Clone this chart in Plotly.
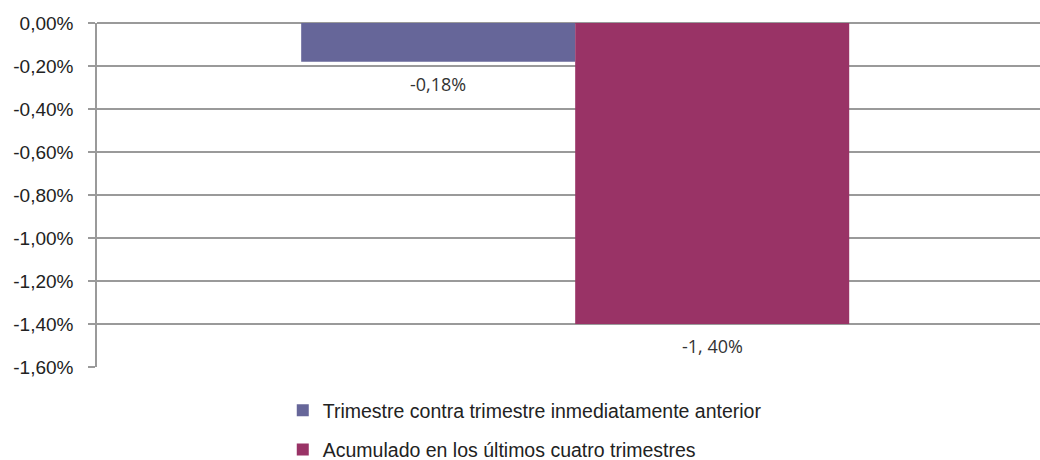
import plotly.graph_objects as go

CATEGORY = [""]
SERIES = [
    "Trimestre contra trimestre inmediatamente anterior",
    "Acumulado en los últimos cuatro trimestres",
]
VALUES = [-0.18, -1.40]
LABELS = ["-0,18%", "-1, 40%"]
COLORS = ["#666699", "#993366"]

TICK_VALS = [0, -0.2, -0.4, -0.6, -0.8, -1.0, -1.2, -1.4, -1.6]
TICK_TEXT = ["0,00%", "-0,20%", "-0,40%", "-0,60%", "-0,80%",
             "-1,00%", "-1,20%", "-1,40%", "-1,60%"]

fig = go.Figure()

for i, (name, val, col) in enumerate(zip(SERIES, VALUES, COLORS)):
    fig.add_trace(
        go.Bar(
            x=CATEGORY,
            y=[val],
            name=name,
            marker=dict(color=col, line=dict(width=0)),
            legendgroup=f"g{i}",
        )
    )

# value labels below each bar
offsets = [-0.5, 0.5]
for off, val, lab in zip(offsets, VALUES, LABELS):
    fig.add_annotation(
        x=0, y=val, xref="x", yref="y",
        text=lab, showarrow=False,
        xshift=off * 274, yshift=-8,
        yanchor="top",
        font=dict(family="Open Sans, Liberation Sans, Arial", size=18, color="#333333"),
    )

fig.update_layout(
    width=1040,
    height=460,
    margin=dict(l=97, r=0, t=23, b=93, autoexpand=False),
    plot_bgcolor="white",
    paper_bgcolor="white",
    barmode="group",
    bargap=0.427,
    bargroupgap=0,
    font=dict(family="Liberation Sans, Arial", size=18, color="#222222"),
    showlegend=True,
    legend=dict(
        orientation="v",
        x=0.197,
        xanchor="left",
        yref="container",
        y=0.15,
        yanchor="top",
        tracegroupgap=11,
        borderwidth=0,
        font=dict(size=19.5, color="#222222"),
        bgcolor="rgba(0,0,0,0)",
    ),
    xaxis=dict(
        type="category",
        range=[-0.5, 0.486],
        showticklabels=False,
        showgrid=False,
        showline=False,
        zeroline=False,
        fixedrange=True,
    ),
    yaxis=dict(
        range=[-1.6, 0],
        tickvals=TICK_VALS,
        ticktext=TICK_TEXT,
        showgrid=True,
        gridcolor="#9a9a9a",
        gridwidth=1.5,
        zeroline=True,
        zerolinecolor="#9a9a9a",
        zerolinewidth=1.5,
        showline=True,
        linecolor="#9a9a9a",
        linewidth=1.5,
        ticks="outside",
        ticklen=7,
        tickcolor="#9a9a9a",
        tickwidth=1.5,
        ticklabelstandoff=11,
        tickfont=dict(size=19, color="#222222"),
    ),
)

fig.write_html(
    "out.html",
    config={"displayModeBar": False},
    post_script="document.body.style.margin='0';document.body.style.overflow='hidden';",
)
